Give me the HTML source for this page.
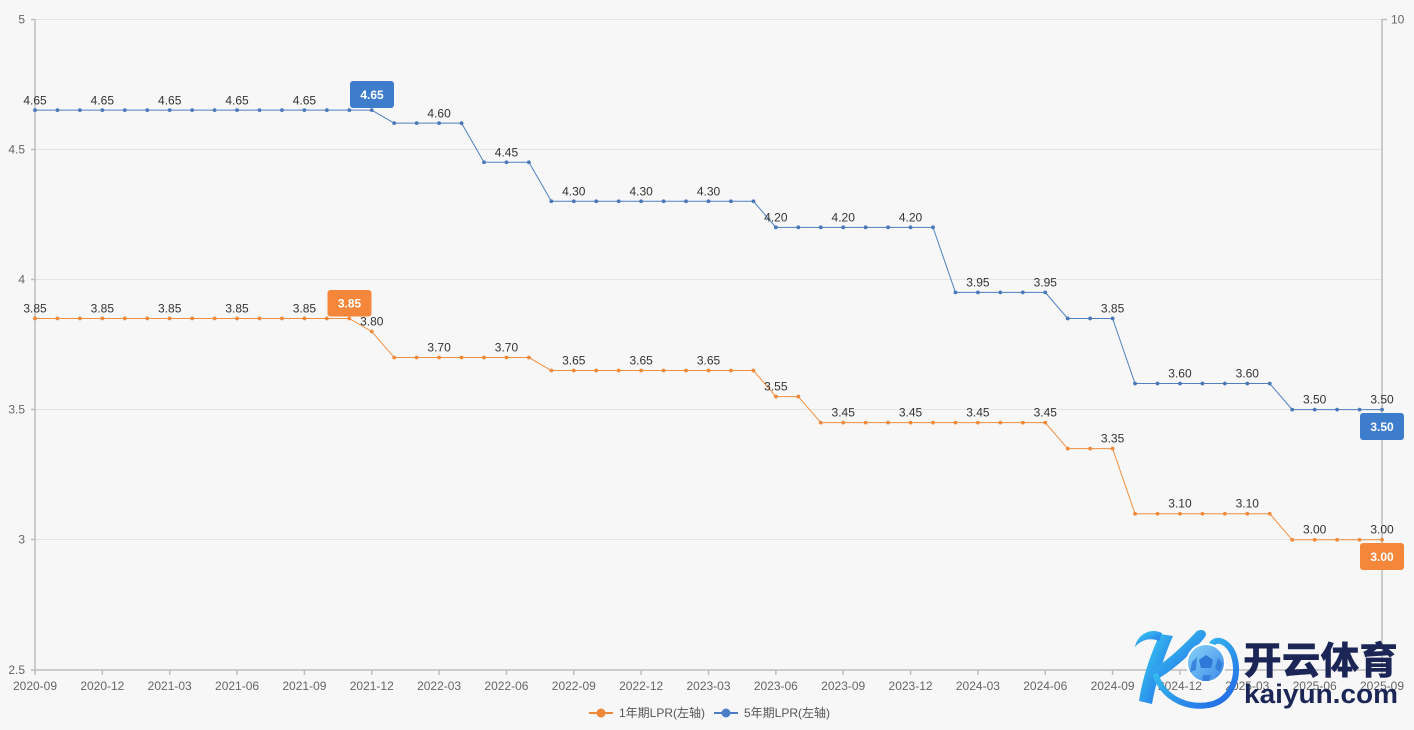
<!DOCTYPE html>
<html><head><meta charset="utf-8">
<style>
html,body{margin:0;padding:0;background:#f7f7f7;}
svg{display:block;font-family:"Liberation Sans","Noto Sans CJK SC",sans-serif;}
</style></head>
<body>
<svg width="1414" height="730" viewBox="0 0 1414 730" xmlns="http://www.w3.org/2000/svg">
<defs>
<marker id="mo" markerWidth="6" markerHeight="6" refX="3" refY="3" markerUnits="userSpaceOnUse"><circle cx="3" cy="3" r="1.9" fill="#ee8a3c"/></marker>
<marker id="mb" markerWidth="6" markerHeight="6" refX="3" refY="3" markerUnits="userSpaceOnUse"><circle cx="3" cy="3" r="1.9" fill="#4a78b8"/></marker>
<linearGradient id="lg" x1="0" y1="0" x2="1" y2="1"><stop offset="0" stop-color="#3cd8f2"/><stop offset="1" stop-color="#2163e6"/></linearGradient>
<linearGradient id="bg2" x1="0" y1="0" x2="1" y2="1"><stop offset="0" stop-color="#8ad4f8"/><stop offset="1" stop-color="#3b8ae8"/></linearGradient>
</defs>
<rect width="1414" height="730" fill="#f7f7f7"/>
<!-- grid -->
<g stroke="#e3e3e3" stroke-width="1">
<line x1="35" y1="19.5" x2="1382" y2="19.5"/>
<line x1="35" y1="149.5" x2="1382" y2="149.5"/>
<line x1="35" y1="279.5" x2="1382" y2="279.5"/>
<line x1="35" y1="409.5" x2="1382" y2="409.5"/>
<line x1="35" y1="539.5" x2="1382" y2="539.5"/>
</g>
<!-- axes -->
<g stroke="#bdbdbd" stroke-width="1.5" fill="none">
<line x1="35" y1="19" x2="35" y2="670"/>
<line x1="35" y1="670" x2="1382" y2="670"/>
<line x1="1382" y1="19" x2="1382" y2="670"/>
<line x1="1382" y1="19.5" x2="1387" y2="19.5"/>
<line x1="31" y1="19.5" x2="35" y2="19.5"/>
<line x1="31" y1="149.5" x2="35" y2="149.5"/>
<line x1="31" y1="279.5" x2="35" y2="279.5"/>
<line x1="31" y1="409.5" x2="35" y2="409.5"/>
<line x1="31" y1="539.5" x2="35" y2="539.5"/>
<line x1="31" y1="670" x2="35" y2="670"/>
<line x1="35" y1="670" x2="35" y2="675"/>
<line x1="102.35" y1="670" x2="102.35" y2="675"/>
<line x1="169.7" y1="670" x2="169.7" y2="675"/>
<line x1="237.05" y1="670" x2="237.05" y2="675"/>
<line x1="304.4" y1="670" x2="304.4" y2="675"/>
<line x1="371.75" y1="670" x2="371.75" y2="675"/>
<line x1="439.1" y1="670" x2="439.1" y2="675"/>
<line x1="506.45" y1="670" x2="506.45" y2="675"/>
<line x1="573.8" y1="670" x2="573.8" y2="675"/>
<line x1="641.15" y1="670" x2="641.15" y2="675"/>
<line x1="708.5" y1="670" x2="708.5" y2="675"/>
<line x1="775.85" y1="670" x2="775.85" y2="675"/>
<line x1="843.2" y1="670" x2="843.2" y2="675"/>
<line x1="910.55" y1="670" x2="910.55" y2="675"/>
<line x1="977.9" y1="670" x2="977.9" y2="675"/>
<line x1="1045.25" y1="670" x2="1045.25" y2="675"/>
<line x1="1112.6" y1="670" x2="1112.6" y2="675"/>
<line x1="1179.95" y1="670" x2="1179.95" y2="675"/>
<line x1="1247.3" y1="670" x2="1247.3" y2="675"/>
<line x1="1314.65" y1="670" x2="1314.65" y2="675"/>
<line x1="1382" y1="670" x2="1382" y2="675"/>
</g>
<!-- y labels -->
<g font-size="12" fill="#666" text-anchor="end">
<text x="25" y="23.5">5</text>
<text x="25" y="153.5">4.5</text>
<text x="25" y="283.5">4</text>
<text x="25" y="413.5">3.5</text>
<text x="25" y="543.5">3</text>
<text x="25" y="674">2.5</text>
</g>
<text x="1391" y="23.5" font-size="12" fill="#666">10</text>
<!-- x labels -->
<g font-size="12" fill="#666" text-anchor="middle">
<text x="35" y="690">2020-09</text>
<text x="102.35" y="690">2020-12</text>
<text x="169.7" y="690">2021-03</text>
<text x="237.05" y="690">2021-06</text>
<text x="304.4" y="690">2021-09</text>
<text x="371.75" y="690">2021-12</text>
<text x="439.1" y="690">2022-03</text>
<text x="506.45" y="690">2022-06</text>
<text x="573.8" y="690">2022-09</text>
<text x="641.15" y="690">2022-12</text>
<text x="708.5" y="690">2023-03</text>
<text x="775.85" y="690">2023-06</text>
<text x="843.2" y="690">2023-09</text>
<text x="910.55" y="690">2023-12</text>
<text x="977.9" y="690">2024-03</text>
<text x="1045.25" y="690">2024-06</text>
<text x="1112.6" y="690">2024-09</text>
<text x="1179.95" y="690">2024-12</text>
<text x="1247.3" y="690">2025-03</text>
<text x="1314.65" y="690">2025-06</text>
<text x="1382" y="690">2025-09</text>
</g>
<!-- 1Y series -->
<polyline fill="none" stroke="#f0903f" stroke-width="1" marker-start="url(#mo)" marker-mid="url(#mo)" marker-end="url(#mo)" points="35,318.46 57.45,318.46 79.9,318.46 102.35,318.46 124.8,318.46 147.25,318.46 169.7,318.46 192.15,318.46 214.6,318.46 237.05,318.46 259.5,318.46 281.95,318.46 304.4,318.46 326.85,318.46 349.3,318.46 371.75,331.48 394.2,357.52 416.65,357.52 439.1,357.52 461.55,357.52 484,357.52 506.45,357.52 528.9,357.52 551.35,370.54 573.8,370.54 596.25,370.54 618.7,370.54 641.15,370.54 663.6,370.54 686.05,370.54 708.5,370.54 730.95,370.54 753.4,370.54 775.85,396.58 798.3,396.58 820.75,422.62 843.2,422.62 865.65,422.62 888.1,422.62 910.55,422.62 933,422.62 955.45,422.62 977.9,422.62 1000.35,422.62 1022.8,422.62 1045.25,422.62 1067.7,448.66 1090.15,448.66 1112.6,448.66 1135.05,513.76 1157.5,513.76 1179.95,513.76 1202.4,513.76 1224.85,513.76 1247.3,513.76 1269.75,513.76 1292.2,539.8 1314.65,539.8 1337.1,539.8 1359.55,539.8 1382,539.8"/>
<!-- 5Y series -->
<polyline fill="none" stroke="#4e80c2" stroke-width="1" marker-start="url(#mb)" marker-mid="url(#mb)" marker-end="url(#mb)" points="35,110.14 57.45,110.14 79.9,110.14 102.35,110.14 124.8,110.14 147.25,110.14 169.7,110.14 192.15,110.14 214.6,110.14 237.05,110.14 259.5,110.14 281.95,110.14 304.4,110.14 326.85,110.14 349.3,110.14 371.75,110.14 394.2,123.16 416.65,123.16 439.1,123.16 461.55,123.16 484,162.22 506.45,162.22 528.9,162.22 551.35,201.28 573.8,201.28 596.25,201.28 618.7,201.28 641.15,201.28 663.6,201.28 686.05,201.28 708.5,201.28 730.95,201.28 753.4,201.28 775.85,227.32 798.3,227.32 820.75,227.32 843.2,227.32 865.65,227.32 888.1,227.32 910.55,227.32 933,227.32 955.45,292.42 977.9,292.42 1000.35,292.42 1022.8,292.42 1045.25,292.42 1067.7,318.46 1090.15,318.46 1112.6,318.46 1135.05,383.56 1157.5,383.56 1179.95,383.56 1202.4,383.56 1224.85,383.56 1247.3,383.56 1269.75,383.56 1292.2,409.6 1314.65,409.6 1337.1,409.6 1359.55,409.6 1382,409.6"/>
<!-- value labels -->
<g font-size="12" fill="#333" text-anchor="middle">
<text x="35" y="104.5">4.65</text>
<text x="102.35" y="104.5">4.65</text>
<text x="169.7" y="104.5">4.65</text>
<text x="237.05" y="104.5">4.65</text>
<text x="304.4" y="104.5">4.65</text>
<text x="439.1" y="117.5">4.60</text>
<text x="506.45" y="156.5">4.45</text>
<text x="573.8" y="195.5">4.30</text>
<text x="641.15" y="195.5">4.30</text>
<text x="708.5" y="195.5">4.30</text>
<text x="775.85" y="221.5">4.20</text>
<text x="843.2" y="221.5">4.20</text>
<text x="910.55" y="221.5">4.20</text>
<text x="977.9" y="286.5">3.95</text>
<text x="1045.25" y="286.5">3.95</text>
<text x="1112.6" y="312.5">3.85</text>
<text x="1179.95" y="377.5">3.60</text>
<text x="1247.3" y="377.5">3.60</text>
<text x="1314.65" y="403.5">3.50</text>
<text x="1382" y="403.5">3.50</text>

<text x="35" y="312.5">3.85</text>
<text x="102.35" y="312.5">3.85</text>
<text x="169.7" y="312.5">3.85</text>
<text x="237.05" y="312.5">3.85</text>
<text x="304.4" y="312.5">3.85</text>
<text x="371.75" y="325.5">3.80</text>
<text x="439.1" y="351.5">3.70</text>
<text x="506.45" y="351.5">3.70</text>
<text x="573.8" y="364.5">3.65</text>
<text x="641.15" y="364.5">3.65</text>
<text x="708.5" y="364.5">3.65</text>
<text x="775.85" y="390.5">3.55</text>
<text x="843.2" y="416.5">3.45</text>
<text x="910.55" y="416.5">3.45</text>
<text x="977.9" y="416.5">3.45</text>
<text x="1045.25" y="416.5">3.45</text>
<text x="1112.6" y="442.5">3.35</text>
<text x="1179.95" y="507.5">3.10</text>
<text x="1247.3" y="507.5">3.10</text>
<text x="1314.65" y="533.5">3.00</text>
<text x="1382" y="533.5">3.00</text>
</g>
<!-- badges -->
<rect x="350" y="81" width="44" height="27" rx="3" fill="#3d7dcc"/>
<text x="372" y="99" font-size="12" font-weight="bold" fill="#fff" text-anchor="middle">4.65</text>
<rect x="327.5" y="290" width="44" height="26.5" rx="3" fill="#f5873a"/>
<text x="349.5" y="307.5" font-size="12" font-weight="bold" fill="#fff" text-anchor="middle">3.85</text>
<rect x="1360" y="413" width="44" height="27" rx="3" fill="#3d7dcc"/>
<text x="1382" y="431" font-size="12" font-weight="bold" fill="#fff" text-anchor="middle">3.50</text>
<rect x="1360" y="543" width="44" height="27" rx="3" fill="#f5873a"/>
<text x="1382" y="561" font-size="12" font-weight="bold" fill="#fff" text-anchor="middle">3.00</text>
<!-- legend -->
<line x1="589" y1="713" x2="613" y2="713" stroke="#f0883a" stroke-width="2"/>
<circle cx="601" cy="713" r="4.5" fill="#f0883a"/>
<text x="619" y="717" font-size="12" fill="#555">1年期LPR(左轴)</text>
<line x1="714" y1="713" x2="738" y2="713" stroke="#4a7fc8" stroke-width="2"/>
<circle cx="726" cy="713" r="4.5" fill="#4a7fc8"/>
<text x="744" y="717" font-size="12" fill="#555">5年期LPR(左轴)</text>
<!-- watermark logo -->
<g>
<path d="M1160,634 C1150,655 1142,680 1139,701 L1152,704 C1156,682 1164,656 1173,636 Z" fill="url(#lg)"/>
<path d="M1162,633 C1150,627 1137,635 1135,647 C1141,640 1150,637 1159,641 Z" fill="url(#lg)"/>
<path d="M1150,672 C1168,660 1184,645 1197,631 C1203,628 1208,632 1205,637 C1192,653 1175,669 1156,680 Z" fill="url(#lg)"/>
<path d="M1156,676 C1165,700 1190,710 1213,704 C1232,698 1240,676 1234,656 C1229,641 1215,636 1211,646" fill="none" stroke="url(#lg)" stroke-width="6" stroke-linecap="round"/>
<circle cx="1206" cy="663" r="19" fill="url(#bg2)" stroke="#fff" stroke-width="2"/>
<polygon points="1206,655 1213,660 1211,668 1201,668 1199,660" fill="#2e78d8"/>
<polygon points="1192,662 1197,657 1196,670 1190,672" fill="#2e78d8" opacity="0.8"/>
<polygon points="1218,658 1223,664 1220,672 1215,668" fill="#2e78d8" opacity="0.8"/>
<polygon points="1203,675 1211,675 1209,681 1202,681" fill="#2e78d8" opacity="0.8"/>
<text x="1243" y="674" font-size="38" font-weight="900" fill="#1b2656" font-family="'Noto Sans CJK SC','WenQuanYi Zen Hei',sans-serif" textLength="155" lengthAdjust="spacingAndGlyphs">开云体育</text>
<text x="1244" y="703" font-size="27" font-weight="bold" fill="#1b2656" textLength="154" lengthAdjust="spacingAndGlyphs">kaiyun.com</text>
</g>
</svg>
</body></html>
